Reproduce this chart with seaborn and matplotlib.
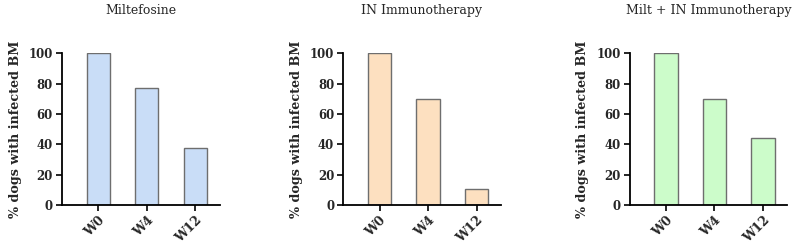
import matplotlib
matplotlib.use("Agg")
import matplotlib.pyplot as plt
import seaborn as sns
import pandas as pd

sns.set_theme(style="white")
plt.rcParams['font.family'] = ['DejaVu Serif']

weeks = ["W0", "W4", "W12"]
titles = ["Miltefosine", "IN Immunotherapy", "Milt + IN Immunotherapy"]
miltefosine = [100, 77, 37.5]
immunotherapy = [100, 70, 10.5]
combined = [100, 70, 44]
series = [miltefosine, immunotherapy, combined]
colors = ["#c9ddf7", "#fde0c0", "#ccfcca"]
ylabel = "% dogs with infected BM"
yticks = [0, 20, 40, 60, 80, 100]

fig = plt.figure(figsize=(8, 2.48), dpi=100)
lefts = [0.0775, 0.429, 0.787]
width = 0.197
bottom = 0.173
height = 0.612

for i in range(3):
    ax = fig.add_axes([lefts[i], bottom, width, height])
    df = pd.DataFrame({"week": weeks, "value": series[i]})
    sns.barplot(data=df, x="week", y="value", color=colors[i], ax=ax,
                width=0.48, edgecolor="#6e6e6e", linewidth=1.0, saturation=1)
    for p in ax.patches:
        p.set_facecolor(colors[i])
    ax.set_xlim(-0.75, 2.5)
    ax.set_ylim(0, 100)
    ax.set_yticks(yticks)
    ax.set_yticklabels([str(t) for t in yticks], fontsize=8.5, fontweight="bold")
    ax.set_xticks(range(len(weeks)))
    ax.set_xticklabels(weeks, rotation=45, ha="right", rotation_mode="anchor",
                       fontsize=9, fontweight="bold")
    ax.set_xlabel("")
    ax.set_ylabel(ylabel, fontsize=9.2, fontweight="bold", labelpad=5)
    for s in ["top", "right"]:
        ax.spines[s].set_visible(False)
    for s in ["left", "bottom"]:
        ax.spines[s].set_color("black")
        ax.spines[s].set_linewidth(1.3)
    ax.tick_params(axis="both", which="major", direction="out", length=4.5,
                   width=1.2, color="black", left=True, bottom=True, pad=2)
    ax.set_title(titles[i], fontsize=9, pad=28)
    ax.spines["left"].set_bounds(0, 100)

fig.savefig("out.png", dpi=100, facecolor="white")
